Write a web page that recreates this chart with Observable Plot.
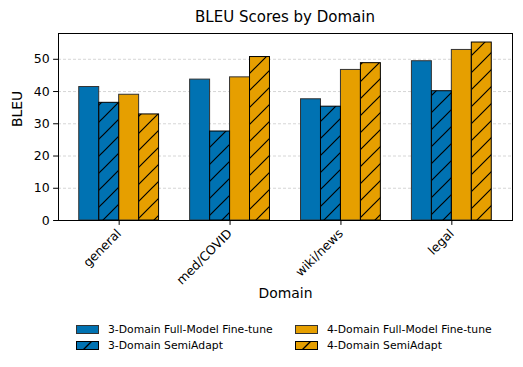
<!DOCTYPE html>
<html><head><meta charset="utf-8">
<script src="https://cdn.jsdelivr.net/npm/d3@7"></script>
<script src="https://cdn.jsdelivr.net/npm/@observablehq/plot@0.6"></script>
<style>
body{margin:0;background:#fff;font-family:"DejaVu Sans",sans-serif;}
#wrap{position:relative;width:523px;height:367px;overflow:hidden;}
#title{position:absolute;left:58px;width:454px;top:8px;text-align:center;font-size:15px;color:#000;}
#chart{position:absolute;left:0;top:0;}
#legend{position:absolute;left:76px;top:321px;display:grid;grid-template-columns:219px 200px;}
.item{display:flex;align-items:center;height:16.5px;font-size:10.8px;color:#000;white-space:nowrap;}
.item svg{margin-right:9px;flex:none;}
</style></head>
<body><div id="wrap"><div id="chart"></div><div id="title">BLEU Scores by Domain</div><div id="legend"></div></div>
<svg width="0" height="0" style="position:absolute">
<defs>
<pattern id="hatch" patternUnits="userSpaceOnUse" width="17" height="17">
<path d="M-2,2 L2,-2 M0,17 L17,0 M15,19 L19,15" stroke="#000" stroke-width="1.2"/>
</pattern>
</defs></svg>
<script>
const domains = ["general", "med/COVID", "wiki/news", "legal"];
const seriesNames = ["3-Domain Full-Model Fine-tune", "3-Domain SemiAdapt", "4-Domain Full-Model Fine-tune", "4-Domain SemiAdapt"];
const full3 = [41.4, 43.7, 37.6, 49.4];
const semi3 = [36.5, 27.6, 35.3, 40.1];
const full4 = [39.0, 44.4, 46.7, 52.9];
const semi4 = [32.9, 50.7, 48.8, 55.2];
const yTicks = [0, 10, 20, 30, 40, 50];

const seriesValues = [full3, semi3, full4, semi4];
const seriesColors = ["#0072B2", "#0072B2", "#E69F00", "#E69F00"];
const seriesHatched = [false, true, false, true];

const rows = [];
seriesValues.forEach((vals, j) => vals.forEach((v, i) => rows.push({
  domain: domains[i], i, j, series: seriesNames[j], value: v, color: seriesColors[j], hatched: seriesHatched[j]
})));
const barW = 0.18;
const x1 = d => d.i + (d.j - 2) * barW;
const x2 = d => d.i + (d.j - 1) * barW;
const hatchedRows = rows.filter(d => d.hatched);
const plainRows = rows.filter(d => !d.hatched);

const plot = Plot.plot({
  width: 523, height: 310,
  marginLeft: 58, marginRight: 11, marginTop: 33, marginBottom: 90,
  style: {fontFamily: "DejaVu Sans", fontSize: "12.5px", color: "#000", background: "transparent", overflow: "visible"},
  x: {domain: [-0.547, 3.547]},
  y: {domain: [0, 58]},
  color: {type: "identity"},
  marks: [
    Plot.gridY(yTicks, {stroke: "#bbb", strokeOpacity: 1, strokeDasharray: "3,2", strokeWidth: 0.6}),
    Plot.rectY(rows, {x1, x2, y1: 0, y2: "value", fill: d => d.color}),
    Plot.rectY(hatchedRows, {x1, x2, y1: 0, y2: "value", fill: "url(#hatch)"}),
    Plot.rectY(plainRows, {x1, x2, y1: 0, y2: "value", fill: "none", stroke: "#333", strokeWidth: 1}),
    Plot.rectY(hatchedRows, {x1, x2, y1: 0, y2: "value", fill: "none", stroke: "#000", strokeWidth: 1}),
    Plot.frame({stroke: "#000", strokeWidth: 1}),
    Plot.axisY({ticks: yTicks, tickSize: 4.9, tickPadding: 4, label: null, fontSize: 12.5}),
    Plot.axisX({ticks: [0, 1, 2, 3], tickFormat: i => domains[i], tickRotate: -45, tickSize: 4.9, tickPadding: 6, label: null, fontSize: 12.5}),
    Plot.text(["Domain"], {frameAnchor: "bottom", dy: 77, text: d => d, fontSize: 13.9}),
    Plot.text(["BLEU"], {frameAnchor: "left", dx: -41, rotate: -90, text: d => d, fontSize: 13.9})
  ]
});
document.getElementById("chart").appendChild(plot);

const legend = document.getElementById("legend");
const order = [0, 2, 1, 3];
order.forEach(j => {
  const item = document.createElement("div");
  item.className = "item";
  const ns = "http://www.w3.org/2000/svg";
  const sw = document.createElementNS(ns, "svg");
  sw.setAttribute("width", 23); sw.setAttribute("height", 9);
  const r = document.createElementNS(ns, "rect");
  r.setAttribute("x", 0.5); r.setAttribute("y", 0.5); r.setAttribute("width", 22); r.setAttribute("height", 8);
  r.setAttribute("fill", seriesColors[j]); r.setAttribute("stroke", seriesHatched[j] ? "#000" : "#333");
  sw.appendChild(r);
  if (seriesHatched[j]) {
    const p = document.createElementNS(ns, "path");
    p.setAttribute("d", "M7.5,8.5 L15.5,0.5");
    p.setAttribute("stroke", "#000"); p.setAttribute("stroke-width", 1.2);
    sw.appendChild(p);
  }
  item.appendChild(sw);
  const t = document.createElement("span");
  t.textContent = seriesNames[j];
  item.appendChild(t);
  legend.appendChild(item);
});
</script>
</body></html>
